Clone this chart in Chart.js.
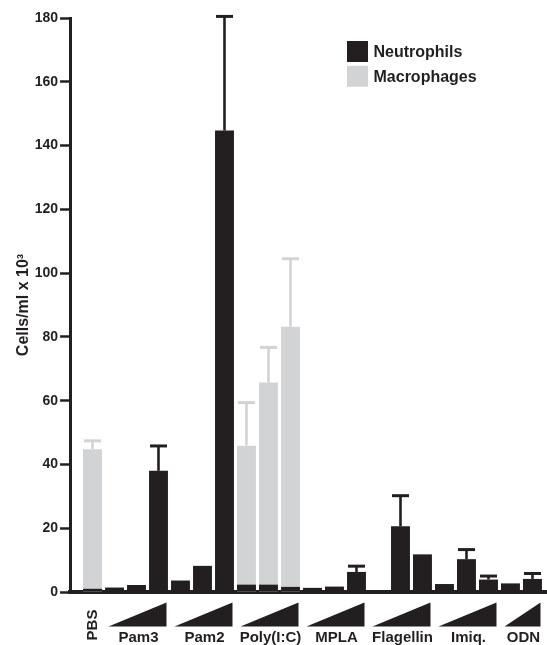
<!DOCTYPE html>
<html>
<head>
<meta charset="utf-8">
<script src="https://cdn.jsdelivr.net/npm/chart.js@4.4.1/dist/chart.umd.min.js"></script>
<style>
  html, body { margin: 0; padding: 0; background: #ffffff; overflow: hidden; }
  #c { display: block; }
</style>
</head>
<body>
<canvas id="c" width="547" height="645"></canvas>
<script>
// ---- data ----
const groups = ['PBS', 'Pam3', 'Pam2', 'Poly(I:C)', 'MPLA', 'Flagellin', 'Imiq.', 'ODN'];
const dosesPerGroup = [1, 3, 3, 3, 3, 3, 3, 2];

const neutrophils    = [1.0, 1.4, 2.2, 38.0, 3.6, 8.2, 144.7, 2.3, 2.3, 1.6, 1.3, 1.7, 6.3, 0.0, 20.6, 11.8, 2.5, 10.3, 3.9, 2.7, 4.1];
const neutrophilsErr = [0, 0, 0, 7.8, 0, 0, 35.8, 0, 0, 0, 0, 0, 1.8, 0, 9.6, 0, 0, 3.0, 1.1, 0, 1.7];
const macrophages    = [44.8, null, null, null, null, null, null, 45.9, 65.7, 83.2, null, null, null, null, null, null, null, null, null, null, null];
const macrophagesErr = [2.6, 0, 0, 0, 0, 0, 0, 13.5, 11.0, 21.3, 0, 0, 0, 0, 0, 0, 0, 0, 0, 0, 0];

const yTicks = [0, 20, 40, 60, 80, 100, 120, 140, 160, 180];
const yTitle = 'Cells/ml x 10\u00B3';

// ---- derived ----
const slots = [];
const groupRanges = [];
dosesPerGroup.forEach((n, g) => {
  const first = slots.length;
  for (let d = 0; d < n; d++) slots.push(slots.length);
  groupRanges.push({ label: groups[g], first, last: slots.length - 1 });
});

const INK = '#231f20';
const GREY = '#d1d3d4';
const FONT = '"Liberation Sans", Arial, Helvetica, sans-serif';

const errorBars = {
  id: 'errorBars',
  afterDatasetDraw(chart, args) {
    const ds = chart.data.datasets[args.index];
    const errs = ds.errors;
    if (!errs) return;
    const y = chart.scales.y;
    const ctx = chart.ctx;
    ctx.save();
    ctx.strokeStyle = ds.backgroundColor;
    args.meta.data.forEach((el, i) => {
      const v = ds.data[i];
      const e = errs[i];
      if (v == null || !e) return;
      const yTop = y.getPixelForValue(v + e);
      ctx.lineWidth = 2.6;
      ctx.beginPath();
      ctx.moveTo(el.x, el.y);
      ctx.lineTo(el.x, yTop);
      ctx.stroke();
      ctx.lineWidth = 3;
      ctx.beginPath();
      ctx.moveTo(el.x - 8.5, yTop);
      ctx.lineTo(el.x + 8.5, yTop);
      ctx.stroke();
    });
    ctx.restore();
  }
};

const groupAxis = {
  id: 'groupAxis',
  afterDraw(chart) {
    const ctx = chart.ctx;
    const x = chart.scales.x;
    const bottom = chart.chartArea.bottom;
    ctx.save();
    ctx.fillStyle = INK;
    ctx.font = 'bold 15px ' + FONT;
    groupRanges.forEach((g) => {
      const c0 = x.getPixelForValue(g.first);
      const c1 = x.getPixelForValue(g.last);
      if (g.first === g.last) {
        ctx.save();
        ctx.translate(c0 + 0.5, bottom + 33);
        ctx.rotate(-Math.PI / 2);
        ctx.textAlign = 'center';
        ctx.textBaseline = 'middle';
        ctx.fillText(g.label, 0, 0);
        ctx.restore();
        return;
      }
      const xl = c0 - 6;
      const xr = c1 + 8;
      ctx.beginPath();
      ctx.moveTo(xl, bottom + 34.5);
      ctx.lineTo(xr, bottom + 34.5);
      ctx.lineTo(xr, bottom + 10.5);
      ctx.closePath();
      ctx.fill();
      ctx.textAlign = 'center';
      ctx.textBaseline = 'alphabetic';
      ctx.fillText(g.label, (xl + xr) / 2 + 1, bottom + 50);
    });
    ctx.restore();
  }
};

const boxLegend = {
  id: 'boxLegend',
  afterDraw(chart) {
    const ctx = chart.ctx;
    ctx.save();
    ctx.font = 'bold 16px ' + FONT;
    ctx.textAlign = 'left';
    ctx.textBaseline = 'alphabetic';
    chart.data.datasets.forEach((ds, i) => {
      const top = 41 + i * 24.8;
      ctx.fillStyle = ds.backgroundColor;
      ctx.fillRect(347, top, 21, 21);
      ctx.fillStyle = INK;
      ctx.fillText(ds.label, 373.5, top + 16.3);
    });
    ctx.restore();
  }
};

new Chart(document.getElementById('c'), {
  type: 'bar',
  data: {
    labels: slots,
    datasets: [
      { label: 'Neutrophils', data: neutrophils, errors: neutrophilsErr, backgroundColor: INK, borderWidth: 0 },
      { label: 'Macrophages', data: macrophages, errors: macrophagesErr, backgroundColor: GREY, borderWidth: 0 }
    ]
  },
  options: {
    responsive: false,
    animation: false,
    devicePixelRatio: 1,
    grouped: false,
    barPercentage: 0.86,
    categoryPercentage: 1,
    layout: { padding: { left: 9.5, top: 18, right: 0, bottom: 45 } },
    plugins: { legend: { display: false }, tooltip: { enabled: false } },
    scales: {
      x: {
        type: 'linear',
        offset: false,
        bounds: 'data',
        min: -1.02,
        max: 20.66,
        ticks: { display: false },
        grid: { display: false, offset: false },
        border: { display: true, width: 4, color: INK }
      },
      y: {
        min: 0,
        max: 180,
        afterBuildTicks: (s) => { s.ticks = yTicks.map(v => ({ value: v })); },
        ticks: { color: INK, font: { family: FONT, size: 14, weight: 'bold' }, padding: 2 },
        grid: { display: true, drawOnChartArea: false, drawTicks: true, tickLength: 10, tickWidth: 2.5, tickColor: INK },
        border: { display: true, width: 3, color: INK },
        title: { display: true, text: yTitle, color: INK, font: { family: FONT, size: 16, weight: 'bold' }, padding: { top: 4, bottom: 0 } }
      }
    }
  },
  plugins: [errorBars, groupAxis, boxLegend]
});
</script>
</body>
</html>
